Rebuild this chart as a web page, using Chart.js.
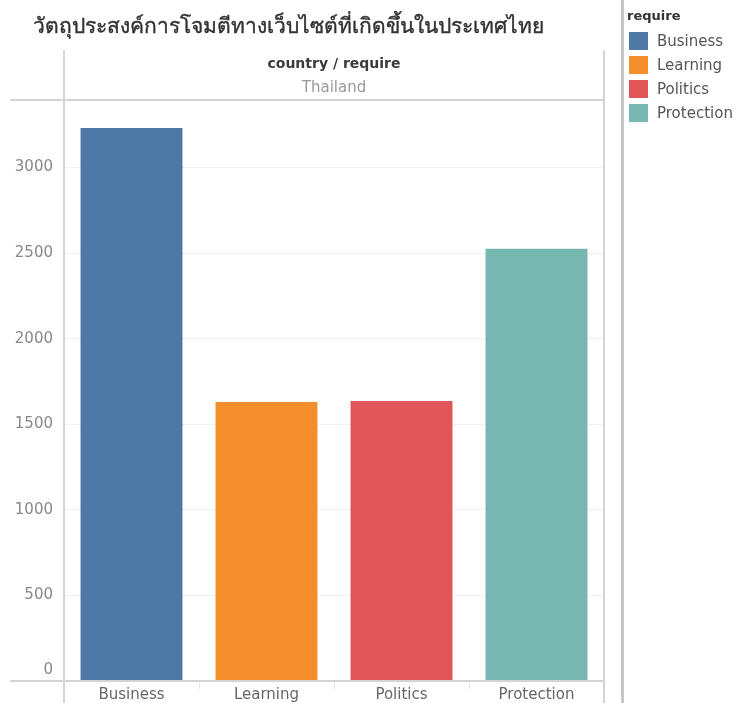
<!DOCTYPE html>
<html>
<head>
<meta charset="utf-8">
<script src="https://cdn.jsdelivr.net/npm/chart.js@4"></script>
<style>
  body { margin: 0; background: #fff; font-family: "DejaVu Sans", sans-serif; }
  #wrap { position: relative; width: 740px; height: 703px; overflow: hidden; }
  #title { position: absolute; left: 33px; top: 9px; font-family: "Open Sans", "Noto Sans", sans-serif; font-size: 21px; font-weight: normal; -webkit-text-stroke: 0.4px #333; color: #333; white-space: nowrap; }
  #legend { position: absolute; left: 627px; top: 8px; font-size: 15px; color: #555; }
  #legend .head { color: #333; font-size: 13px; font-weight: bold; margin-bottom: 6px; }
  #legend .item { display: flex; align-items: center; height: 24px; }
  #legend .sw { width: 19px; height: 18px; margin-left: 2px; margin-right: 9px; }
  canvas { position: absolute; left: 0; top: 0; }
</style>
</head>
<body>
<div id="wrap">
  <canvas id="myChart" width="740" height="703"></canvas>
  <div id="title">วัตถุประสงค์การโจมตีทางเว็บไซต์ที่เกิดขึ้นในประเทศไทย</div>
  <div id="legend"></div>
</div>
<script>
const categories = ['Business', 'Learning', 'Politics', 'Protection'];
const counts = [3230, 1630, 1636, 2525];
const colors = ['#4e79a7', '#f28e2b', '#e15759', '#76b7b2'];
const yTicks = [0, 500, 1000, 1500, 2000, 2500, 3000];
const legendTitle = 'require';
const headerTitle = 'country / require';
const headerValue = 'Thailand';

// legend
const legendEl = document.getElementById('legend');
legendEl.innerHTML = '<div class="head">' + legendTitle + '</div>' +
  categories.map((c, i) =>
    '<div class="item"><span class="sw" style="background:' + colors[i] + '"></span>' + c + '</div>'
  ).join('');

const fontFamily = '"DejaVu Sans", sans-serif';

const framePlugin = {
  id: 'frame',
  afterDraw(chart) {
    const ctx = chart.ctx;
    const a = chart.chartArea;
    ctx.save();
    ctx.strokeStyle = '#d4d4d4';
    ctx.lineWidth = 2;
    ctx.beginPath();
    // top and bottom lines
    ctx.moveTo(10, a.top); ctx.lineTo(a.right, a.top);
    ctx.moveTo(10, a.bottom); ctx.lineTo(a.right, a.bottom);
    // verticals
    ctx.moveTo(a.left, 50); ctx.lineTo(a.left, 703);
    ctx.moveTo(a.right, 50); ctx.lineTo(a.right, 703);
    ctx.stroke();
    ctx.strokeStyle = '#c8c8c8';
    ctx.lineWidth = 3;
    ctx.beginPath();
    ctx.moveTo(622.5, 0); ctx.lineTo(622.5, 703);
    ctx.stroke();

    const cx = (a.left + a.right) / 2;
    ctx.textAlign = 'center';
    ctx.textBaseline = 'middle';
    ctx.font = 'bold 14px ' + fontFamily;
    ctx.fillStyle = '#3a3a3a';
    ctx.fillText(headerTitle, cx, 64);
    ctx.font = '15px ' + fontFamily;
    ctx.fillStyle = '#999';
    ctx.fillText(headerValue, cx, 88);

    // the zero label sits just above the baseline, as in the original
    const y = chart.scales.y;
    ctx.textAlign = 'right';
    ctx.fillStyle = '#888';
    ctx.fillText(String(yTicks[0]), a.left - 11, y.getPixelForValue(yTicks[0]) - 11);
    ctx.restore();
  }
};

new Chart(document.getElementById('myChart'), {
  type: 'bar',
  data: {
    labels: categories,
    datasets: [{
      data: counts,
      backgroundColor: colors,
      barPercentage: 0.755,
      categoryPercentage: 1
    }]
  },
  options: {
    responsive: false,
    animation: false,
    layout: { padding: { top: 100, right: 136, left: 0, bottom: 0 } },
    plugins: { legend: { display: false }, tooltip: { enabled: false } },
    scales: {
      x: {
        afterFit(axis) { axis.height = 22; },
        grid: { drawOnChartArea: false, color: '#e6e6e6', tickLength: 8, offset: true },
        border: { display: false },
        ticks: { color: '#666', font: { size: 15, family: fontFamily }, padding: -3 }
      },
      y: {
        min: 0,
        max: 3394,
        afterFit(axis) { axis.width = 64; },
        afterBuildTicks(axis) { axis.ticks = yTicks.map(v => ({ value: v })); },
        grid: { color: '#f0f0f0', drawTicks: false },
        border: { display: false },
        ticks: {
          color: '#888',
          font: { size: 15, family: fontFamily },
          padding: 11,
          callback: v => (v === 0 ? '' : String(v))
        }
      }
    }
  },
  plugins: [framePlugin]
});
</script>
</body>
</html>
